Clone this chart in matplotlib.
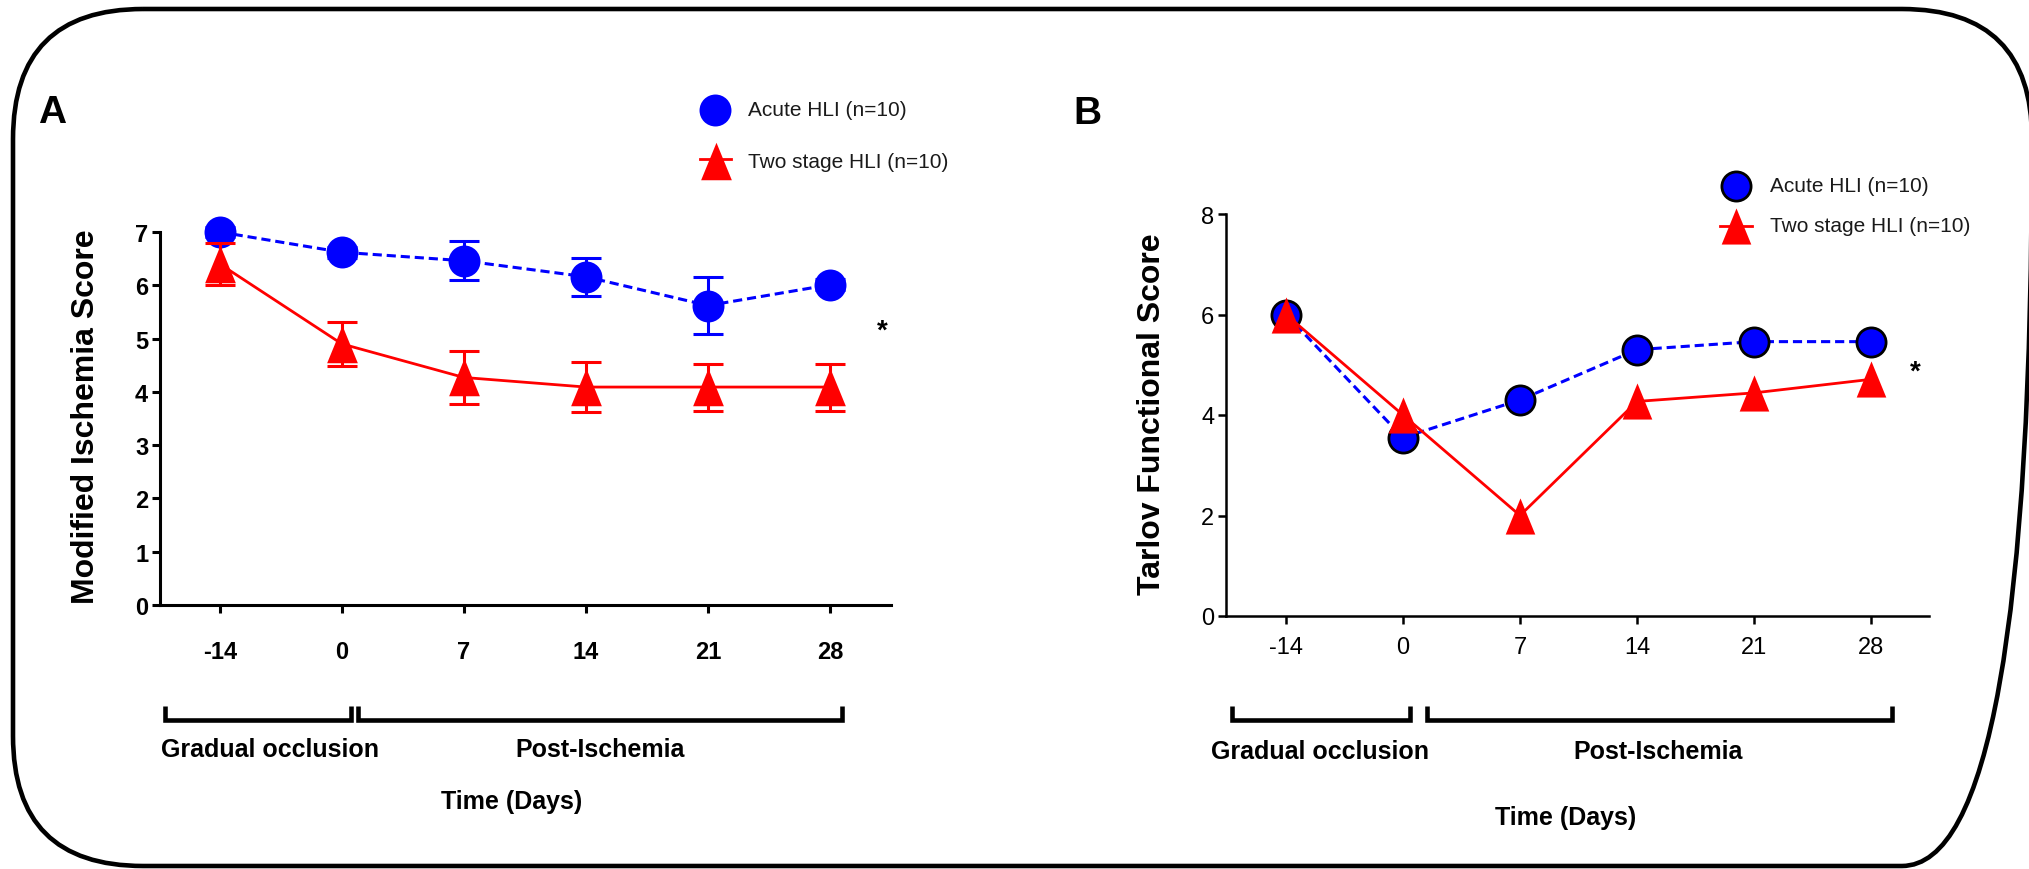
import numpy as np
import matplotlib.pyplot as plt
from matplotlib.path import Path
from matplotlib.patches import FancyBboxPatch

plt.rcParams['font.family'] = ['Liberation Sans', 'DejaVu Sans']

days = ['-14', '0', '7', '14', '21', '28']

# A: modified ischemia score, mean and error
acute_isch = [7.0, 6.62, 6.46, 6.16, 5.62, 6.01]
acute_isch_err = [0.1, 0.1, 0.37, 0.36, 0.53, 0.1]
two_isch = [6.40, 4.90, 4.27, 4.09, 4.09, 4.09]
two_isch_err = [0.40, 0.42, 0.50, 0.47, 0.44, 0.44]

# B: tarlov functional score
acute_tarlov = [6.0, 3.55, 4.3, 5.3, 5.46, 5.46]
two_tarlov = [6.0, 4.0, 2.0, 4.27, 4.44, 4.71]

labels = ['Acute HLI (n=10)', 'Two stage HLI (n=10)']

W, H = 2029, 870
BLUE = '#0000ff'
RED = '#ff0000'
DASH = (0, (3, 1.6))
# triangle a bit narrower than it is tall
tri = Path([(0, 0.5), (-0.41, -0.5), (0.41, -0.5), (0, 0.5)],
           [Path.MOVETO, Path.LINETO, Path.LINETO, Path.CLOSEPOLY])


def box(l, t, r, b):
    return [l / W, 1 - b / H, (r - l) / W, (b - t) / H]


def noclip(cont):
    for art in cont.get_children():
        art.set_clip_on(False)


fig = plt.figure(figsize=(W / 100, H / 100), dpi=100)

ov = fig.add_axes([0, 0, 1, 1])
ov.set_xlim(0, W)
ov.set_ylim(H, 0)
ov.axis('off')
ov.add_patch(FancyBboxPatch((13, 10), 2032 - 13, 867 - 10,
                            boxstyle='round,pad=0,rounding_size=130',
                            fill=False, lw=3.3, ec='k'))

x = np.arange(len(days))

# ---------------- panel A ----------------
axA = fig.add_axes(box(160, 233, 891, 606))
axA.patch.set_visible(False)
e1 = axA.errorbar(x, acute_isch, yerr=acute_isch_err, fmt='none', ecolor=BLUE,
                  capsize=11, capthick=2.2, elinewidth=2.2, zorder=2.9)
axA.plot(x, acute_isch, color=BLUE, ls=DASH, lw=2.2, marker='o', ms=23, mew=0,
         zorder=3, clip_on=False)
e2 = axA.errorbar(x, two_isch, yerr=two_isch_err, fmt='none', ecolor=RED,
                  capsize=11, capthick=2.2, elinewidth=2.2, zorder=3.9)
axA.plot(x, two_isch, color=RED, ls='-', lw=2, marker=tri, ms=27, mew=0,
         zorder=4, clip_on=False)
noclip(e1)
noclip(e2)
axA.set_xlim(-0.49, 5.5)
axA.set_ylim(0, 7)
axA.set_yticks(range(0, 8))
axA.set_xticks(x)
axA.set_xticklabels(days)
for s in ['top', 'right']:
    axA.spines[s].set_visible(False)
for s in ['left', 'bottom']:
    axA.spines[s].set_linewidth(2.2)
axA.tick_params(axis='both', width=2.2, length=5.5, labelsize=17)
axA.tick_params(axis='x', pad=20)
axA.tick_params(axis='y', pad=3)
for t in axA.get_xticklabels() + axA.get_yticklabels():
    t.set_fontweight('bold')

# ---------------- panel B ----------------
axB = fig.add_axes(box(1226, 215, 1929, 617))
axB.patch.set_visible(False)
axB.plot(x, acute_tarlov, color=BLUE, ls=DASH, lw=2.2, marker='o', ms=21,
         mfc=BLUE, mec='k', mew=2, zorder=3, clip_on=False)
axB.plot(x, two_tarlov, color=RED, ls='-', lw=2, marker=tri, ms=26,
         mfc=RED, mew=0, zorder=4, clip_on=False)
axB.set_xlim(-0.513, 5.496)
axB.set_ylim(0, 8)
axB.set_yticks([0, 2, 4, 6, 8])
axB.set_xticks(x)
axB.set_xticklabels(days)
for s in ['top', 'right']:
    axB.spines[s].set_visible(False)
for s in ['left', 'bottom']:
    axB.spines[s].set_linewidth(1.8)
axB.tick_params(axis='both', width=1.8, length=5.5, labelsize=17)
axB.tick_params(axis='x', pad=9)
axB.tick_params(axis='y', pad=3)

# ---------------- annotations ----------------
bold = dict(fontweight='bold', ha='center', va='center', color='k')
ov.text(52, 113, 'A', fontsize=28, **bold)
ov.text(1087, 114, 'B', fontsize=28, **bold)
ov.text(86, 417, 'Modified Ischemia Score', fontsize=23, rotation=90, **bold)
ov.text(1152, 414, 'Tarlov Functional Score', fontsize=23, rotation=90, **bold)
ov.text(882, 332, '*', fontsize=20, **bold)
ov.text(1915, 373, '*', fontsize=20, **bold)


def bracket(x0, x1, top=707, bot=721):
    ov.plot([x0, x0, x1, x1], [top, bot, bot, top], color='k', lw=3.3,
            solid_joinstyle='miter', solid_capstyle='butt')


bracket(165, 351)
bracket(358, 842)
bracket(1232, 1410)
bracket(1427, 1892)
ov.text(270, 750, 'Gradual occlusion', fontsize=18, **bold)
ov.text(600, 750, 'Post-Ischemia', fontsize=18, **bold)
ov.text(512, 802, 'Time (Days)', fontsize=18, **bold)
ov.text(1320, 752, 'Gradual occlusion', fontsize=18, **bold)
ov.text(1658, 752, 'Post-Ischemia', fontsize=18, **bold)
ov.text(1566, 818, 'Time (Days)', fontsize=18, **bold)

# legends
leg_txt = dict(fontsize=15, ha='left', va='center', color='#1a1a1a')
ov.plot([715], [111], marker='o', ms=23, mfc=BLUE, mew=0, ls='none')
ov.plot([700, 731], [160, 160], color=RED, lw=2)
ov.plot([716], [162], marker=tri, ms=27, mfc=RED, mew=0, ls='none')
ov.text(748, 111, labels[0], **leg_txt)
ov.text(748, 162, labels[1], **leg_txt)

ov.plot([1736], [187], marker='o', ms=21, mfc=BLUE, mec='k', mew=2, ls='none')
ov.plot([1720, 1752], [227, 227], color=RED, lw=2)
ov.plot([1736], [227], marker=tri, ms=26, mfc=RED, mew=0, ls='none')
ov.text(1770, 187, labels[0], **leg_txt)
ov.text(1770, 227, labels[1], **leg_txt)

fig.savefig('out.png', dpi=100)
